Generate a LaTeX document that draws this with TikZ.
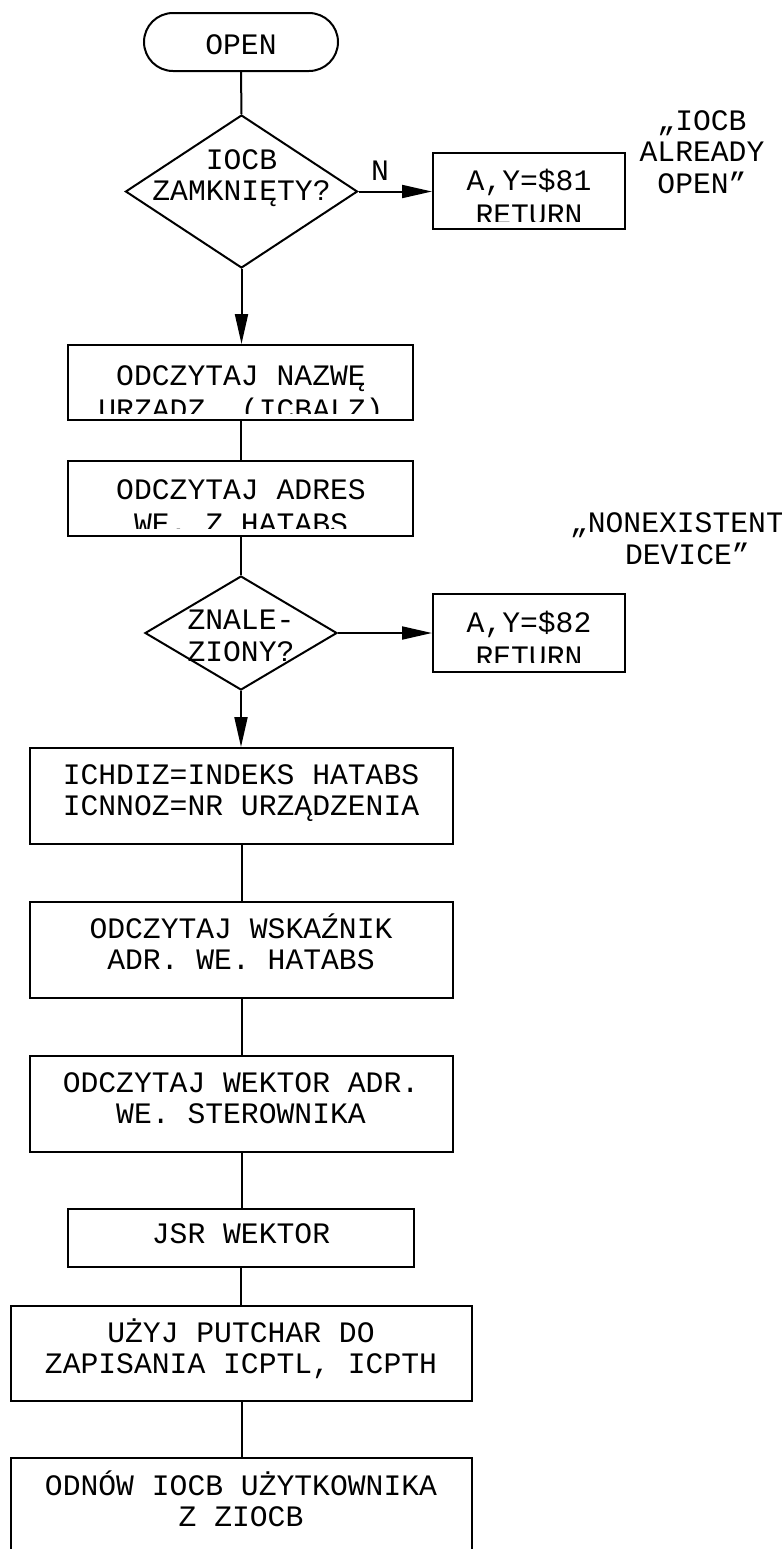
\documentclass[tikz,border=0pt]{standalone}
\usepackage{fontspec}
\newfontfamily\mono{Liberation Mono}
\usetikzlibrary{shapes.geometric,shapes.misc,arrows.meta,fit}

\begin{document}
\begin{tikzpicture}[x=0.5pt,y=-0.5pt,line width=1pt,
  box/.style={draw,rectangle,inner sep=0pt},
  txt/.style={font=\mono\fontsize{14.85}{15.5}\selectfont,inner sep=0pt,anchor=base},
  flow/.style={-{Triangle[length=15pt,width=6.5pt]}}]
\path[clip,use as bounding box] (0,0) rectangle (782,1549);

% start terminal
\node[draw,rounded rectangle,minimum width=97pt,minimum height=29pt,inner sep=0pt] (start) at (241,42) {};
\node[txt] (start-t) at (241,54) {OPEN};

% first decision
\node[draw,diamond,minimum width=116pt,minimum height=76.5pt,inner sep=0pt] (d1) at (241.5,191.5) {};
\node[txt] (d1-t1) at (241.5,169) {IOCB};
\node[txt] (d1-t2) at (241.5,200) {ZAMKNIĘTY?};
\node[txt] (n-lab) at (380,180) {N};

% error return 1
\node[box,fit={(433,153) (625,229)}] (r1) {};
\node[txt] (r1-t1) at (529,190) {A,Y=\$81};
\begin{scope}
  \clip (433,153) rectangle (625,221);
  \node[txt] (r1-t2) at (529,224.5) {RETURN};
\end{scope}
\node[txt] (c1-a) at (702,130) {„IOCB};
\node[txt] (c1-b) at (702,161.5) {ALREADY};
\node[txt] (c1-c) at (702,193) {OPEN”};

% read device name
\node[box,fit={(68,345) (413,420)}] (nazwa) {};
\node[txt] (nazwa-t1) at (241,385) {ODCZYTAJ NAZWĘ};
\begin{scope}
  \clip (68,345) rectangle (413,413);
  \node[txt] (nazwa-t2) at (241,419) {URZĄDZ. (ICBALZ)};
\end{scope}

% read HATABS address
\node[box,fit={(68,461) (413,536)}] (adres) {};
\node[txt] (adres-t1) at (241,499) {ODCZYTAJ ADRES};
\begin{scope}
  \clip (68,461) rectangle (413,528);
  \node[txt] (adres-t2) at (241,533) {WE. Z HATABS};
\end{scope}
\node[txt,anchor=base west] (c2-a) at (569,532) {„NONEXISTENT};
\node[txt,anchor=base west] (c2-b) at (624,564) {DEVICE”};

% second decision
\node[draw,diamond,minimum width=96pt,minimum height=57pt,inner sep=0pt] (d2) at (241,633) {};
\node[txt] (d2-t1) at (241,629) {ZNALE-};
\node[txt] (d2-t2) at (241,661) {ZIONY?};

% error return 2
\node[box,fit={(433,594) (625,672)}] (r2) {};
\node[txt] (r2-t1) at (529,632) {A,Y=\$82};
\begin{scope}
  \clip (433,594) rectangle (625,662);
  \node[txt] (r2-t2) at (529,666) {RETURN};
\end{scope}

% main sequence
\node[box,fit={(30,748) (453,844)}] (ichdiz) {};
\node[txt] (ichdiz-t1) at (241,784) {ICHDIZ=INDEKS HATABS};
\node[txt] (ichdiz-t2) at (241,815) {ICNNOZ=NR URZĄDZENIA};

\node[box,fit={(30,902) (453,998)}] (wsk) {};
\node[txt] (wsk-t1) at (241,938) {ODCZYTAJ WSKAŹNIK};
\node[txt] (wsk-t2) at (241,969) {ADR. WE. HATABS};

\node[box,fit={(30,1056) (453,1152)}] (wek) {};
\node[txt] (wek-t1) at (241,1092) {ODCZYTAJ WEKTOR ADR.};
\node[txt] (wek-t2) at (241,1123) {WE. STEROWNIKA};

\node[box,fit={(68,1209) (414,1267)}] (jsr) {};
\node[txt] (jsr-t) at (241,1243) {JSR WEKTOR};

\node[box,fit={(11,1306) (472,1401)}] (uzyj) {};
\node[txt] (uzyj-t1) at (241,1342) {UŻYJ PUTCHAR DO};
\node[txt] (uzyj-t2) at (241,1373) {ZAPISANIA ICPTL, ICPTH};

\node[box,fit={(11,1458) (472,1580)}] (odnow) {};
\node[txt] (odnow-t1) at (241,1495) {ODNÓW IOCB UŻYTKOWNIKA};
\node[txt] (odnow-t2) at (241,1526) {Z ZIOCB};

% connectors
\draw (start.south) -- (d1.north);
\draw[flow] (d1.east) -- (d1.east -| r1.west);
\draw[flow] (d1.south) -- (d1.south |- nazwa.north);
\draw (nazwa.south) -- (nazwa.south |- adres.north);
\draw (adres.south) -- (adres.south |- d2.north);
\draw[flow] (d2.east) -- (d2.east -| r2.west);
\draw[flow] (d2.south) -- (d2.south |- ichdiz.north);
\draw (ichdiz.south) -- (ichdiz.south |- wsk.north);
\draw (wsk.south) -- (wsk.south |- wek.north);
\draw (wek.south) -- (wek.south |- jsr.north);
\draw (jsr.south) -- (jsr.south |- uzyj.north);
\draw (uzyj.south) -- (uzyj.south |- odnow.north);
\end{tikzpicture}
\end{document}
